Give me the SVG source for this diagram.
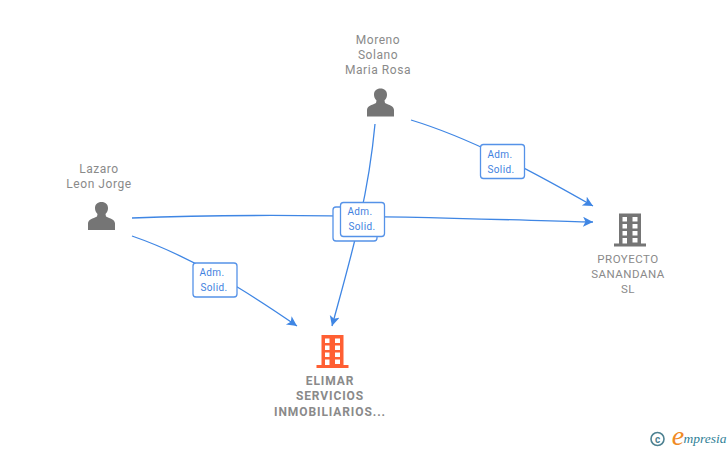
<svg xmlns="http://www.w3.org/2000/svg" width="728" height="450" viewBox="0 0 728 450">
<style>
text{font-family:Roboto,"Liberation Sans",sans-serif;text-anchor:middle}
.n{font-size:12px;fill:#8a8a8a;letter-spacing:.55px}
.c{font-size:11.5px;fill:#8a8a8a;letter-spacing:.5px}
.b{font-size:12px;fill:#8a8a8a;font-weight:700;letter-spacing:.9px}
.l{font-size:10px;fill:#3f82e0;letter-spacing:.4px}
.e{fill:none;stroke:#3f86e4;stroke-width:1.3}
.box{fill:#fff;stroke:#5592e8;stroke-width:1.3}
</style>
<defs>
<marker id="a" markerUnits="userSpaceOnUse" markerWidth="12" markerHeight="12" refX="10" refY="5" orient="auto"><path d="M0 0L10 5L0 10L2.5 5Z" fill="#3f86e4"/></marker>
<g id="person"><path d="M-13.500 14V7.500C-13.500 3.500-8.500 2.500-4.500 0.500L-4-2C-6-4-6.500-6-6.500-8C-6.500-11.500-4-14 0-14C4-14 6.500-11.500 6.500-8C6.500-6 6-4 4-2L4.500 0.500C8.500 2.500 13.500 3.500 13.500 7.500V14Z" fill="#757575"/></g>
<g id="bld"><path fill-rule="evenodd" d="M-11-17H11V13H16V16H-16V13H-11ZM-7.500-13.500V-9H-3V-13.500ZM2.500-13.500V-9H7.500V-13.500ZM-7.500-6.500V-2H-3V-6.500ZM2.500-6.500V-2H7.500V-6.500ZM-7.500 0.500V5H-3V0.500ZM2.500 0.500V5H7.500V0.500ZM-7.500 7.500V13H-3V7.500ZM2.500 7.500V12H7.500V7.500Z"/></g>
</defs>
<g id="connectors">
<path class="e" marker-end="url(#a)" d="M411 120C470 138 530 170 593 206"/>
<path class="e" marker-end="url(#a)" d="M375 124C368 200 350 260 332 326"/>
<path class="e" marker-end="url(#a)" d="M132 218C280 212 440 218 593 222"/>
<path class="e" marker-end="url(#a)" d="M132 236C190 256 245 290 297 326"/>
</g>
<g id="label-1"><rect class="box" x="193" y="263" width="44" height="34" rx="3"/><text class="l" x="212" y="276">Adm.</text><text class="l" x="214" y="291">Solid.</text></g>
<g id="label-2"><rect class="box" x="480.500" y="144.500" width="44" height="34" rx="3"/><text class="l" x="500" y="158">Adm.</text><text class="l" x="501" y="173">Solid.</text></g>
<g id="label-3"><rect class="box" x="333" y="207" width="44" height="34" rx="3"/></g>
<g id="label-4"><rect class="box" x="340.500" y="202.500" width="44" height="34" rx="3"/><text class="l" x="360" y="215">Adm.</text><text class="l" x="362" y="230">Solid.</text></g>
<g id="node-moreno"><text class="n" x="378" y="44">Moreno</text><text class="n" x="378" y="59">Solano</text><text class="n" x="378" y="74">Maria Rosa</text><use href="#person" x="380.500" y="102.500"/></g>
<g id="node-lazaro"><text class="n" x="99" y="173">Lazaro</text><text class="n" x="99" y="188">Leon Jorge</text><use href="#person" x="101.500" y="216"/></g>
<g id="node-proyecto"><use href="#bld" x="630" y="230.500" fill="#757575"/><text class="c" x="628" y="263">PROYECTO</text><text class="c" x="628" y="278">SANANDANA</text><text class="c" x="628" y="293">SL</text></g>
<g id="node-elimar"><use href="#bld" x="332.500" y="352" fill="#ff5f33"/><text class="b" x="330" y="385">ELIMAR</text><text class="b" x="330" y="400">SERVICIOS</text><text class="b" x="330" y="416">INMOBILIARIOS...</text></g>
<g id="logo"><circle cx="657.500" cy="439" r="6.500" fill="none" stroke="#4d8191" stroke-width="1.600"/><text x="657.500" y="442.500" style="font-size:10px;fill:#4d8191;font-weight:700">c</text><text x="678" y="445" style="font-family:'Liberation Serif',serif;font-size:28px;font-style:italic;fill:#f08a24">e</text><text x="705" y="443" style="font-family:'Liberation Serif',serif;font-size:13.500px;font-style:italic;fill:#2f7f96">mpresia</text></g>
</svg>
